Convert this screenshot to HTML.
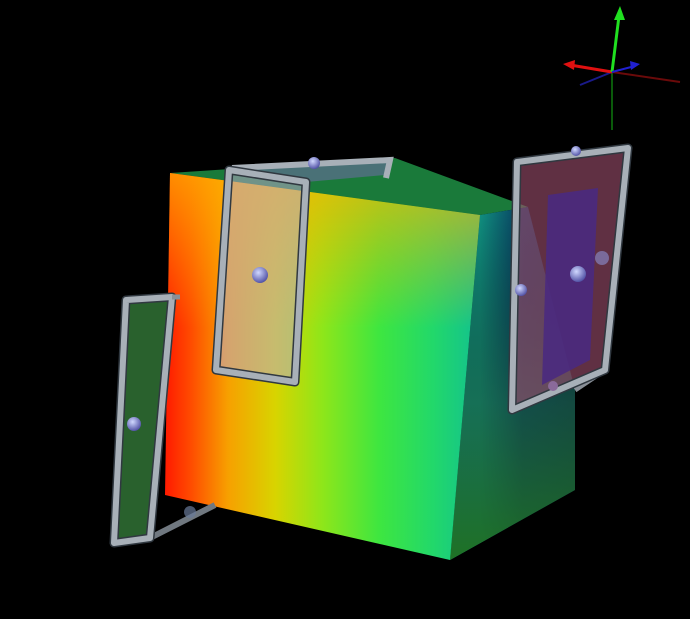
<!DOCTYPE html>
<html><head><meta charset="utf-8">
<style>html,body{margin:0;padding:0;background:#000;}svg{display:block}</style></head>
<body>
<svg width="690" height="619" viewBox="0 0 690 619">
<defs>
<linearGradient id="front" x1="165" y1="0" x2="480" y2="0" gradientUnits="userSpaceOnUse">
<stop offset="0" stop-color="#ff1a00"/>
<stop offset="0.08" stop-color="#ff4a00"/>
<stop offset="0.2" stop-color="#f7a000"/>
<stop offset="0.35" stop-color="#d8d400"/>
<stop offset="0.5" stop-color="#8ee61a"/>
<stop offset="0.68" stop-color="#3ee640"/>
<stop offset="0.85" stop-color="#22d86a"/>
<stop offset="1" stop-color="#12c090"/>
</linearGradient>
<linearGradient id="frontv" x1="0" y1="173" x2="0" y2="560" gradientUnits="userSpaceOnUse">
<stop offset="0" stop-color="#ffb000" stop-opacity="0.75"/>
<stop offset="0.4" stop-color="#ffb000" stop-opacity="0"/>
</linearGradient>
<linearGradient id="right" x1="480" y1="0" x2="575" y2="0" gradientUnits="userSpaceOnUse">
<stop offset="0" stop-color="#109080"/>
<stop offset="0.45" stop-color="#083a60"/>
<stop offset="1" stop-color="#0a3048"/>
</linearGradient>
<linearGradient id="rightv" x1="0" y1="210" x2="0" y2="560" gradientUnits="userSpaceOnUse">
<stop offset="0" stop-color="#000" stop-opacity="0"/>
<stop offset="0.55" stop-color="#1a5a3a" stop-opacity="0.6"/>
<stop offset="1" stop-color="#207020" stop-opacity="0.95"/>
</linearGradient>
<radialGradient id="ball" cx="0.4" cy="0.35" r="0.7">
<stop offset="0" stop-color="#d0d8ff"/><stop offset="1" stop-color="#4a4aa0"/>
</radialGradient>
</defs>
<rect width="690" height="619" fill="#000"/>

<g>
<polygon points="170,173 395,158 528,207 480,215" fill="#1a7a3a"/>
<polygon points="480,215 528,207 575,390 575,490 450,560" fill="url(#right)"/>
<polygon points="480,215 528,207 575,390 575,490 450,560" fill="url(#rightv)"/>
<polygon points="170,173 480,215 450,560 165,495" fill="url(#front)"/>
<polygon points="170,173 480,215 450,560 165,495" fill="url(#frontv)"/>
</g>

<g>
<polygon points="126,300 172,297 150,538 114,543" fill="#3a8a40" fill-opacity="0.7"/>
<line x1="150" y1="538" x2="215" y2="505" stroke="#707880" stroke-width="6"/>
<polygon points="126,300 172,297 150,538 114,543" fill="none" stroke="#303840" stroke-width="9" stroke-linejoin="round"/>
<polygon points="126,300 172,297 150,538 114,543" fill="none" stroke="#a8b0b8" stroke-width="6" stroke-linejoin="round"/>
<line x1="172" y1="297" x2="180" y2="297" stroke="#8a9098" stroke-width="5"/>
<circle cx="134" cy="424" r="7" fill="url(#ball)"/>
<circle cx="190" cy="512" r="6" fill="#6a7a9a" opacity="0.7"/>
</g>

<g>
<polygon points="232,168 390,160 385,175 306,182" fill="#6a6aa0" fill-opacity="0.6"/>
<polyline points="232,168 390,160 386,178" fill="none" stroke="#a8b0b8" stroke-width="6"/>
<polygon points="229,170 306,182 295,382 216,370" fill="#b8a8c8" fill-opacity="0.55"/>
<polygon points="229,170 306,182 295,382 216,370" fill="none" stroke="#303840" stroke-width="9" stroke-linejoin="round"/>
<polygon points="229,170 306,182 295,382 216,370" fill="none" stroke="#a8b0b8" stroke-width="6" stroke-linejoin="round"/>
<circle cx="260" cy="275" r="8" fill="url(#ball)"/>
<circle cx="314" cy="163" r="6" fill="url(#ball)"/>
</g>

<g>
<polygon points="517,162 628,148 605,370 512,410" fill="#a05070" fill-opacity="0.6"/>
<polygon points="548,195 598,188 590,360 542,385" fill="#4a2a80" fill-opacity="0.9"/>
<line x1="605" y1="370" x2="575" y2="390" stroke="#8a9098" stroke-width="5"/>
<polygon points="517,162 628,148 605,370 512,410" fill="none" stroke="#303840" stroke-width="9" stroke-linejoin="round"/>
<polygon points="517,162 628,148 605,370 512,410" fill="none" stroke="#a8b0b8" stroke-width="6" stroke-linejoin="round"/>
<circle cx="578" cy="274" r="8" fill="url(#ball)"/>
<circle cx="602" cy="258" r="7" fill="#7a6a9a"/>
<circle cx="521" cy="290" r="6" fill="url(#ball)"/>
<circle cx="576" cy="151" r="5" fill="url(#ball)"/>
<circle cx="553" cy="386" r="5" fill="#8a6a9a"/>
</g>

<g>
<line x1="612" y1="72" x2="612" y2="130" stroke="#0a5a0a" stroke-width="2"/>
<line x1="612" y1="72" x2="680" y2="82" stroke="#6a0a0a" stroke-width="2"/>
<line x1="612" y1="72" x2="580" y2="85" stroke="#1a1a8a" stroke-width="2"/>
<line x1="612" y1="72" x2="570" y2="65" stroke="#e01010" stroke-width="3"/>
<polygon points="563,64 575,60 574,70" fill="#e01010"/>
<line x1="612" y1="72" x2="619" y2="16" stroke="#20e020" stroke-width="3"/>
<polygon points="620,6 614,20 625,20" fill="#20e020"/>
<line x1="612" y1="72" x2="635" y2="66" stroke="#2020d0" stroke-width="2"/>
<polygon points="640,64 630,61 631,70" fill="#2020d0"/>
</g>
</svg>
</body></html>
